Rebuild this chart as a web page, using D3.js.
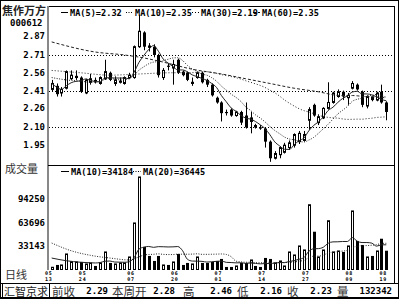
<!DOCTYPE html>
<html lang="zh">
<head>
<meta charset="utf-8">
<title>焦作万方 日线</title>
<script src="https://cdn.jsdelivr.net/npm/d3@7"></script>
<style>
  body { margin: 0; background: #fff; }
  svg { display: block; }
</style>
</head>
<body>
<svg id="chart" width="400" height="300"></svg>
<script>
// 1. data
var stockName = "焦作万方", stockCode = "000612";
var opens  = [2.42,2.45,2.39,2.43,2.51,2.52,2.52,2.39,2.48,2.50, 2.47,2.51,2.56,2.47,2.48,2.47,2.52,2.52,2.78,2.90,
              2.79,2.78,2.71,2.52,2.62,2.60,2.67,2.57,2.56,2.47, 2.52,2.56,2.50,2.46,2.35,2.31,2.23,2.25,2.20,2.23,
              2.20,2.15,2.12,2.10,2.09,1.98,1.84,1.87,1.89,1.93, 1.95,1.98,1.99,2.16,2.29,2.14,2.18,2.26,2.31,2.36,
              2.40,2.35,2.43,2.46,2.40,2.28,2.36,2.33,2.40,2.31];
var closes = [2.47,2.38,2.42,2.57,2.54,2.53,2.40,2.50,2.51,2.49, 2.52,2.57,2.50,2.50,2.49,2.52,2.54,2.78,2.91,2.78,
              2.77,2.71,2.54,2.58,2.61,2.63,2.56,2.54,2.50,2.48, 2.56,2.48,2.46,2.37,2.31,2.22,2.22,2.20,2.23,2.14,
              2.10,2.18,2.10,2.09,1.98,1.84,1.88,1.93,1.95,1.97, 2.04,2.05,2.04,2.25,2.20,2.19,2.26,2.31,2.39,2.40,
              2.36,2.37,2.47,2.42,2.29,2.36,2.33,2.39,2.31,2.23];
var highs  = [2.50,2.47,2.44,2.58,2.58,2.58,2.53,2.51,2.55,2.52, 2.53,2.67,2.57,2.53,2.52,2.53,2.56,2.79,3.05,2.91,
              2.81,2.80,2.72,2.60,2.64,2.67,2.68,2.58,2.57,2.52, 2.57,2.57,2.51,2.47,2.36,2.32,2.25,2.26,2.24,2.24,
              2.31,2.23,2.13,2.12,2.10,1.99,1.90,1.94,1.97,1.99, 2.05,2.07,2.07,2.27,2.30,2.21,2.27,2.48,2.40,2.42,
              2.41,2.39,2.49,2.47,2.41,2.37,2.36,2.40,2.46,2.32];
var lows   = [2.40,2.36,2.36,2.42,2.50,2.50,2.39,2.38,2.46,2.47, 2.46,2.50,2.49,2.45,2.47,2.46,2.51,2.51,2.77,2.75,
              2.74,2.69,2.52,2.50,2.58,2.46,2.55,2.53,2.49,2.45, 2.51,2.47,2.44,2.36,2.30,2.15,2.20,2.19,2.19,2.12,
              2.09,2.05,2.09,2.08,1.93,1.81,1.83,1.84,1.88,1.91, 1.93,1.96,1.98,2.08,2.19,2.12,2.17,2.25,2.30,2.35,
              2.33,2.29,2.42,2.41,2.27,2.26,2.32,2.32,2.30,2.16];
var volumes = [5500,8500,8500,22800,12700,12400,12400,9800,11100,7200, 11100,25400,11100,9800,11100,11100,18900,63100,122900,31900,
               20200,13700,20200,8500,8500,12400,22800,8500,11100,9800, 18900,11100,11100,12400,13700,16300,5900,5900,7200,11100,
               11100,15000,7200,5900,17600,16300,11100,13700,7200,25400, 21500,33200,28000,86800,51700,18900,28000,66000,25400,26700,
               25400,33200,78700,39700,34500,18900,20200,26700,42600,27000];

// moving-average values before enough bars exist in the window: [bar index, value]
var ma5Head  = [[0,2.47],[1,2.44],[2,2.42],[3,2.45]];
var ma10Head = [[0,2.52],[3,2.50],[6,2.49],[8,2.48]];
var ma30Head = [[0,2.58],[6,2.56],[12,2.54],[18,2.55],[24,2.56]];
var ma60Head = [[0,2.82],[9,2.735],[15,2.71],[19,2.685],[23,2.65],[29,2.59],[35,2.55],[40,2.51],[45,2.47],[50,2.43],[55,2.40]];
var volMa10Head = [[0,17500],[3,14000],[6,12000],[8,11300]];
var volMa20Head = [[0,37000],[4,27000],[8,21000],[12,17500],[16,15000],[18,19000]];

var priceTicks = ["2.87","2.71","2.56","2.41","2.26","2.10","1.95"];
var priceGrid = [2.71, 2.41, 2.10];
var volTicks = ["94250","63696","33143"];
var dateIdx = [0,7,17,26,35,44,53,62,69];
var dateMonths = ["05","05","06","06","07","07","07","08","08"];
var dateDays   = ["13","24","07","20","01","14","27","09","19"];
var priceLegend = ["MA(5)=2.32","MA(10)=2.35","MA(30)=2.19","MA(60)=2.35"];
var volLegend = ["MA(10)=34184","MA(20)=36445"];
var infoLabels = ["前收","本周开","高","低","收","量"];
var infoValues = ["2.29","2.28","2.46","2.16","2.23","132342"];

// 2. layout
var plotL = 48, plotR = 394, priceTop = 6, priceBot = 165, volBot = 270;
var mono = "'DejaVu Sans Mono', monospace", cjk = "'Noto Sans CJK SC', sans-serif";

var svg = d3.select("#chart");

var x = d3.scaleLinear().domain([0, closes.length - 1]).range([51.7, 386.3]);
var y = d3.scaleLinear().domain([1.95, 2.87]).range([145.2, 36]);
var yv = d3.scaleLinear().domain([33143, 94250]).range([246, 199]);

function px(i) { return Math.round(x(i)); }

function movingAvg(vals, n, head) {
  var out = head.slice();
  for (var i = n - 1; i < vals.length; i++) {
    out.push([i, d3.mean(vals.slice(i - n + 1, i + 1))]);
  }
  return out;
}

// clip areas
var defs = svg.append("defs");
defs.append("clipPath").attr("id", "clipP").append("rect")
  .attr("x", plotL + 1).attr("y", priceTop + 1).attr("width", plotR - plotL - 1).attr("height", priceBot - priceTop - 1);
defs.append("clipPath").attr("id", "clipV").append("rect")
  .attr("x", plotL + 1).attr("y", priceBot + 1).attr("width", plotR - plotL - 1).attr("height", volBot - priceBot - 1);

// 3. frame
var frame = svg.append("g").attr("fill", "none");
frame.append("rect").attr("x", 0.5).attr("y", 0.5).attr("width", 398).attr("height", 298).attr("stroke", "#000");
frame.append("line").attr("x1", plotL).attr("x2", plotR).attr("y1", priceTop + 0.5).attr("y2", priceTop + 0.5).attr("stroke", "#000");
frame.append("line").attr("x1", plotL).attr("x2", plotL).attr("y1", priceTop).attr("y2", volBot).attr("stroke", "#888").attr("stroke-width", 2);
frame.append("line").attr("x1", plotR + 0.5).attr("x2", plotR + 0.5).attr("y1", priceTop).attr("y2", 283).attr("stroke", "#000");
frame.append("line").attr("x1", plotL).attr("x2", plotR).attr("y1", priceBot + 0.5).attr("y2", priceBot + 0.5).attr("stroke", "#000");
frame.append("line").attr("x1", 0).attr("x2", 399).attr("y1", 283.5).attr("y2", 283.5).attr("stroke", "#000");
frame.append("line").attr("x1", 0).attr("x2", 399).attr("y1", 297.5).attr("y2", 297.5).attr("stroke", "#000");
frame.append("rect").attr("x", 2.5).attr("y", 283.5).attr("width", 47).attr("height", 14).attr("stroke", "#000");

// 4. price grid + axis labels
svg.append("g").selectAll("line").data(priceGrid).enter().append("line")
  .attr("x1", plotL + 1).attr("x2", plotR)
  .attr("y1", function(d) { return Math.round(y(d)) + 0.5; })
  .attr("y2", function(d) { return Math.round(y(d)) + 0.5; })
  .attr("stroke", "#000").attr("stroke-dasharray", "1,2");

svg.append("g").selectAll("text").data(priceTicks).enter().append("text")
  .attr("x", 45).attr("y", function(d) { return y(+d) + 3; })
  .attr("text-anchor", "end").style("font", "bold 9px " + mono).text(function(d) { return d; });

svg.append("g").selectAll("text").data(volTicks).enter().append("text")
  .attr("x", 45).attr("y", function(d) { return yv(+d) + 3; })
  .attr("text-anchor", "end").style("font", "bold 9px " + mono).text(function(d) { return d; });

svg.append("text").attr("x", 2).attr("y", 15).style("font", "bold 11px " + cjk).attr("fill", "#222").text(stockName);
svg.append("text").attr("x", 10).attr("y", 26).style("font", "bold 9px " + mono).text(stockCode);
svg.append("text").attr("x", 5).attr("y", 173).style("font", "11px " + cjk).attr("fill", "#333").text("成交量");
svg.append("text").attr("x", 5).attr("y", 279).style("font", "11px " + cjk).attr("fill", "#333").text("日线");

// 5. candles
var candles = svg.append("g").attr("clip-path", "url(#clipP)");
var idx = d3.range(closes.length);
candles.selectAll("line").data(idx).enter().append("line")
  .attr("x1", function(i) { return px(i) + 0.5; }).attr("x2", function(i) { return px(i) + 0.5; })
  .attr("y1", function(i) { return y(highs[i]); }).attr("y2", function(i) { return y(lows[i]); })
  .attr("stroke", "#000");
candles.selectAll("rect").data(idx).enter().append("rect")
  .attr("x", function(i) { return closes[i] >= opens[i] ? px(i) - 0.5 : px(i) - 1; })
  .attr("width", function(i) { return closes[i] >= opens[i] ? 2 : 3; })
  .attr("y", function(i) { return y(Math.max(opens[i], closes[i])); })
  .attr("height", function(i) { return Math.max(1, Math.abs(y(opens[i]) - y(closes[i]))); })
  .attr("fill", function(i) { return closes[i] >= opens[i] ? "#fff" : "#000"; })
  .attr("stroke", function(i) { return closes[i] >= opens[i] ? "#000" : "none"; });

// 6. price MAs
var line = d3.line().x(function(d) { return x(d[0]); }).y(function(d) { return y(d[1]); }).curve(d3.curveMonotoneX);
var priceMAs = [
  { pts: movingAvg(closes, 5, ma5Head), dash: null },
  { pts: movingAvg(closes, 10, ma10Head), dash: "1,1.5" },
  { pts: movingAvg(closes, 30, ma30Head), dash: "1,2" },
  { pts: movingAvg(closes, 60, ma60Head), dash: "3,2" }
];
svg.append("g").attr("clip-path", "url(#clipP)").selectAll("path").data(priceMAs).enter().append("path")
  .attr("d", function(d) { return line(d.pts); })
  .attr("fill", "none").attr("stroke", "#222").attr("stroke-width", 1)
  .attr("stroke-dasharray", function(d) { return d.dash; });

// legend (price)
var legX = [70, 135, 201, 262];
var legG = svg.append("g");
priceLegend.forEach(function(t, k) {
  legG.append("line").attr("x1", legX[k] - 9).attr("x2", legX[k] - 2).attr("y1", 12.5).attr("y2", 12.5)
    .attr("stroke", "#000").attr("stroke-dasharray", priceMAs[k].dash);
  legG.append("text").attr("x", legX[k]).attr("y", 16).style("font", "bold 8.6px " + mono).text(t);
});

// 7. volume bars
var vols = svg.append("g").attr("clip-path", "url(#clipV)");
vols.selectAll("rect").data(idx).enter().append("rect")
  .attr("x", function(i) { return closes[i] >= opens[i] ? px(i) - 0.5 : px(i) - 1; })
  .attr("width", function(i) { return closes[i] >= opens[i] ? 2 : 3; })
  .attr("y", function(i) { return yv(volumes[i]); })
  .attr("height", function(i) { return volBot - yv(volumes[i]); })
  .attr("fill", function(i) { return closes[i] >= opens[i] ? "#fff" : "#000"; })
  .attr("stroke", function(i) { return closes[i] >= opens[i] ? "#000" : "none"; });

var vline = d3.line().x(function(d) { return x(d[0]); }).y(function(d) { return yv(d[1]); }).curve(d3.curveMonotoneX);
var volMAs = [
  { pts: movingAvg(volumes, 10, volMa10Head), dash: null },
  { pts: movingAvg(volumes, 20, volMa20Head), dash: "1,1.5" }
];
svg.append("g").attr("clip-path", "url(#clipV)").selectAll("path").data(volMAs).enter().append("path")
  .attr("d", function(d) { return vline(d.pts); })
  .attr("fill", "none").attr("stroke", "#222").attr("stroke-dasharray", function(d) { return d.dash; });

var vlegX = [71, 143];
volLegend.forEach(function(t, k) {
  svg.append("line").attr("x1", vlegX[k] - 10).attr("x2", vlegX[k] - 2).attr("y1", 171.5).attr("y2", 171.5)
    .attr("stroke", "#000").attr("stroke-dasharray", volMAs[k].dash);
  svg.append("text").attr("x", vlegX[k]).attr("y", 175).style("font", "bold 8.6px " + mono).text(t);
});

// 8. date axis: month above day, small squat digits
var dates = svg.append("g").style("font", "bold 5px " + mono).style("letter-spacing", "0.8px")
  .attr("text-anchor", "middle");
dateIdx.forEach(function(i, k) {
  var cx = Math.max(44, x(i) - 3);
  dates.append("text").attr("x", cx).attr("y", 275).text(dateMonths[k]);
  dates.append("text").attr("x", cx).attr("y", 281).text(dateDays[k]);
});

// 9. info row
var infoLabelX = [52, 112, 183, 237, 287, 337];
var infoValueX = [108, 175, 232, 282, 332, 392];
svg.append("text").attr("x", 4).attr("y", 295.6).style("font", "11px " + cjk).attr("fill", "#222").text("汇智京求");
infoLabels.forEach(function(t, k) {
  svg.append("text").attr("x", infoLabelX[k]).attr("y", 295.8).style("font", "11.5px " + cjk).attr("fill", "#333").text(t);
  svg.append("text").attr("x", infoValueX[k]).attr("y", 294).attr("text-anchor", "end")
    .style("font", "bold 9px " + mono).text(infoValues[k]);
});
</script>
</body>
</html>
